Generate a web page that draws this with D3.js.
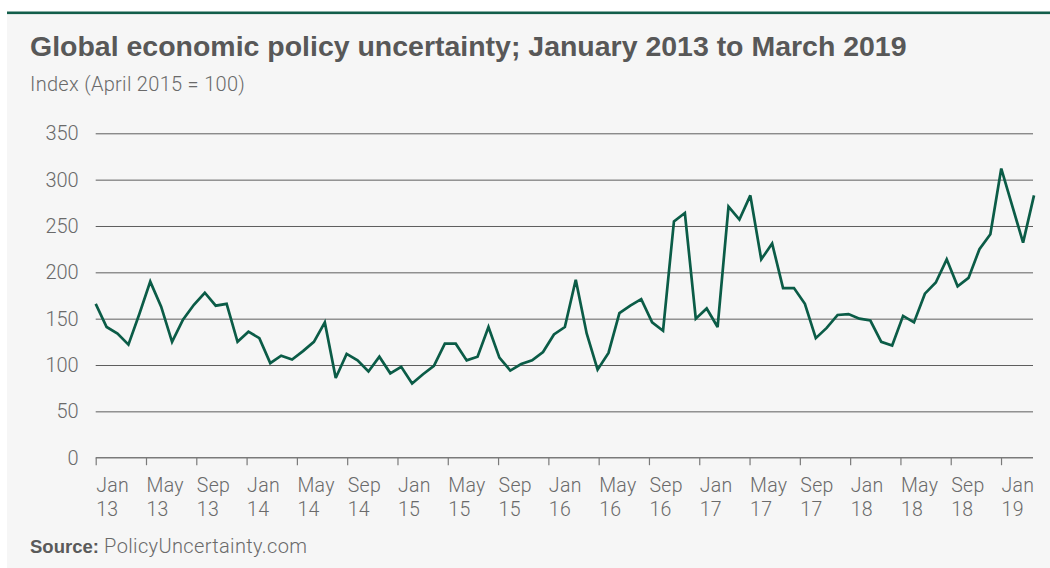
<!DOCTYPE html>
<html>
<head>
<meta charset="utf-8">
<script src="https://cdn.jsdelivr.net/npm/d3@7"></script>
<style>
  html, body { margin: 0; padding: 0; background: #ffffff; }
  svg { display: block; }
</style>
</head>
<body>
<svg id="chart" width="1050" height="568"></svg>
<script>
// Axis month labels, January 2013 to March 2019
const monthNames = ["Jan","Feb","Mar","Apr","May","Jun","Jul","Aug","Sep","Oct","Nov","Dec"];
const months = [];
for (let yr = 13; yr <= 19; yr++) {
  for (let m = 0; m < 12; m++) {
    if (yr === 19 && m > 2) break;
    months.push(monthNames[m] + " " + yr);
  }
}
// Labelled ticks: every fourth month
const tickMonths = months.filter((d, i) => i % 4 === 0);

// Global economic policy uncertainty index (April 2015 = 100)
const values = [
  166, 141, 134, 122, 155, 190, 163, 125, 149, 165,
  178, 164, 166, 125, 136, 129, 102, 110, 106, 115,
  125, 146, 86, 112, 105, 93, 109, 91, 98, 80,
  90, 99, 123, 123, 105, 109, 141, 108, 94, 101,
  105, 114, 133, 141, 192, 134, 95, 113, 156, 164,
  171, 146, 137, 255, 264, 150, 161, 141, 271, 257,
  283, 214, 231, 183, 183, 166, 129, 140, 154, 155,
  150, 148, 125, 121, 153, 146, 177, 189, 214, 185,
  194, 225, 241, 312, 272, 232, 283
];

// Value axis ticks
const yTicks = [0, 50, 100, 150, 200, 250, 300, 350];

const svg = d3.select("#chart");
const W = 1050, H = 568;
const plot = { left: 95.7, right: 1034, top: 133.3, bottom: 457.7 };
const monthStep = 12.574;
const lightFont = "Roboto, 'Liberation Sans', Arial, sans-serif";
const boldFont = "'Liberation Sans', Arial, Helvetica, sans-serif";
const textGrey = "#6a6a6a";
const green = "#0b5c47";

// Scale a text element's font size so it spans a given width
function fitFontSize(sel, width) {
  const fs = +sel.attr("font-size");
  const len = sel.node().getComputedTextLength();
  if (len > 0) sel.attr("font-size", (fs * width / len).toFixed(2));
}

// Panel background with a green rule along the top
svg.append("rect").attr("x", 7).attr("y", 12).attr("width", W - 7).attr("height", H - 12).attr("fill", "#f6f6f6");
svg.append("rect").attr("x", 7).attr("y", 11.5).attr("width", W - 7).attr("height", 2.6).attr("fill", "#135e4b");

// Title block
const title = svg.append("text")
  .attr("x", 30).attr("y", 56)
  .attr("font-family", boldFont)
  .attr("font-weight", "bold")
  .attr("font-size", 26)
  .attr("fill", "#585858")
  .text("Global economic policy uncertainty; January 2013 to March 2019");
fitFontSize(title, 877);

svg.append("text")
  .attr("x", 30).attr("y", 91)
  .attr("font-family", lightFont)
  .attr("font-weight", 300)
  .attr("font-size", 20)
  .attr("letter-spacing", 0.3)
  .attr("fill", textGrey)
  .text("Index (April 2015 = 100)");

// Scales
const y = d3.scaleLinear().domain([0, 350]).range([plot.bottom, plot.top]);
const xMonth = d3.scalePoint()
  .domain(months)
  .range([plot.left, plot.left + monthStep * (months.length - 1)]);
const xIdx = d3.scaleLinear().domain([0, values.length - 1]).range([plot.left, plot.right]);

// Horizontal gridlines and value labels
const yAxis = svg.append("g")
  .attr("transform", `translate(${plot.left},0)`)
  .call(d3.axisLeft(y).tickValues(yTicks).tickSize(-(plot.right - plot.left - 1)).tickPadding(17));
yAxis.select(".domain").remove();
yAxis.selectAll(".tick line")
  .attr("stroke", "#5e5e5e")
  .attr("stroke-width", 1)
  .filter(d => d === 0).remove();
yAxis.selectAll(".tick text")
  .attr("font-family", lightFont)
  .attr("font-weight", 300)
  .attr("font-size", 20)
  .attr("fill", textGrey);

// Category axis along the bottom
const xAxis = svg.append("g")
  .attr("transform", `translate(0,${plot.bottom})`)
  .call(d3.axisBottom(xMonth).tickValues(tickMonths).tickSize(7.5).tickFormat(""));
xAxis.select(".domain").remove();
xAxis.selectAll(".tick line").attr("stroke", "#7a7a7a").attr("stroke-width", 1.2);
xAxis.append("line")
  .attr("x1", plot.left).attr("x2", plot.right - 1)
  .attr("y1", 0).attr("y2", 0)
  .attr("stroke", "#7a7a7a").attr("stroke-width", 1.6);

const lbl = xAxis.selectAll(".tick").append("text")
  .attr("text-anchor", "start")
  .attr("x", 0)
  .attr("font-family", lightFont)
  .attr("font-weight", 300)
  .attr("font-size", 19.5)
  .attr("letter-spacing", 0.3)
  .attr("fill", textGrey);
lbl.append("tspan").attr("x", 0).attr("y", 34.5).text(d => d.split(" ")[0]);
lbl.append("tspan").attr("x", 0).attr("y", 58.2).text(d => d.split(" ")[1]);

// Index line
const line = d3.line()
  .x((d, i) => xIdx(i))
  .y(d => y(d))
  .curve(d3.curveLinear);

svg.append("path")
  .datum(values)
  .attr("d", line)
  .attr("fill", "none")
  .attr("stroke", green)
  .attr("stroke-width", 2.7)
  .attr("stroke-linejoin", "miter")
  .attr("stroke-miterlimit", 3);

// Source note
const src = svg.append("text")
  .attr("x", 30).attr("y", 553)
  .attr("font-size", 20)
  .attr("fill", textGrey);
src.append("tspan")
  .attr("font-family", boldFont)
  .attr("font-weight", "bold")
  .attr("fill", "#5a5a5a")
  .attr("font-size", 18.5)
  .text("Source:");
src.append("tspan")
  .attr("font-family", lightFont)
  .attr("font-weight", 300)
  .attr("letter-spacing", 0.35)
  .text(" PolicyUncertainty.com");
</script>
</body>
</html>
